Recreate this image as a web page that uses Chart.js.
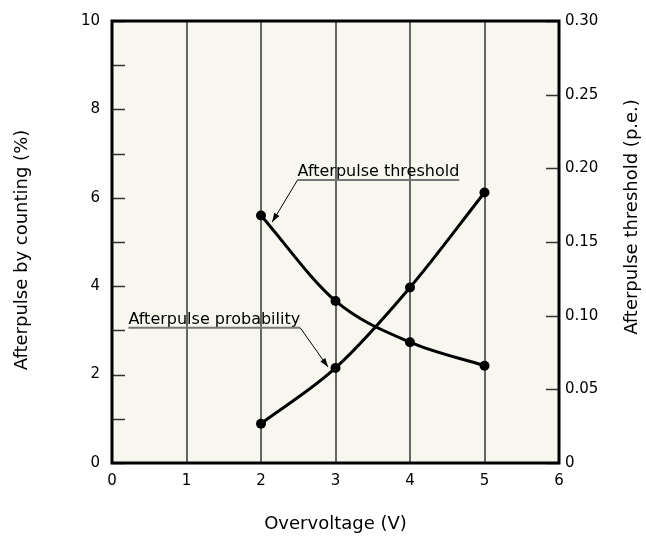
<!DOCTYPE html>
<html>
<head>
<meta charset="utf-8">
<title>Afterpulse vs overvoltage</title>
<script src="https://cdn.jsdelivr.net/npm/chart.js@4.4.0/dist/chart.umd.min.js"></script>
<style>
  html, body { margin: 0; padding: 0; background: #fff; }
  #wrap { width: 646px; height: 550px; }
</style>
</head>
<body>
<div id="wrap"><canvas id="afterpulseChart" width="646" height="550"></canvas></div>
<script>
// Measured points
const overvoltage = [2, 3, 4, 5];                       // V
const afterpulseProbability = [0.89, 2.15, 3.97, 6.12]; // % (left axis)
const afterpulseThreshold = [0.168, 0.11, 0.082, 0.066]; // p.e. (right axis)

// Axis ticks
const xTickValues = [0, 1, 2, 3, 4, 5, 6];
const leftTickValues = [0, 1, 2, 3, 4, 5, 6, 7, 8, 9, 10];
const leftTickLabels = ["0", "", "2", "", "4", "", "6", "", "8", "", "10"];
const rightTickValues = [0, 0.05, 0.1, 0.15, 0.2, 0.25, 0.3];
const rightTickLabels = ["0", "0.05", "0.10", "0.15", "0.20", "0.25", "0.30"];

const FONT = '"DejaVu Sans", Verdana, sans-serif';

// Callout labels with leader arrows (in x / left-axis units)
const callouts = [
  { text: "Afterpulse threshold", at: [2.49, 6.4], tip: [2.15, 5.45], from: "start" },
  { text: "Afterpulse probability", at: [0.22, 3.06], tip: [2.9, 2.17], from: "end" },
];

const setTicks = (values) => (scale) => {
  scale.ticks = values.map((v) => ({ value: v }));
};

function drawArrow(ctx, x1, y1, x2, y2) {
  ctx.beginPath();
  ctx.moveTo(x1, y1);
  ctx.lineTo(x2, y2);
  ctx.stroke();
  const ang = Math.atan2(y2 - y1, x2 - x1);
  const len = 9, half = 3;
  ctx.beginPath();
  ctx.moveTo(x2, y2);
  ctx.lineTo(x2 - len * Math.cos(ang) + half * Math.sin(ang), y2 - len * Math.sin(ang) - half * Math.cos(ang));
  ctx.lineTo(x2 - len * Math.cos(ang) - half * Math.sin(ang), y2 - len * Math.sin(ang) + half * Math.cos(ang));
  ctx.closePath();
  ctx.fill();
}

const framePlugin = {
  id: "frame",
  beforeDraw(chart) {
    const { ctx, chartArea: a } = chart;
    ctx.save();
    ctx.fillStyle = "#f7f6ef";
    ctx.fillRect(a.left, a.top, a.right - a.left, a.bottom - a.top);
    ctx.restore();
  },
  afterDraw(chart) {
    const { ctx, chartArea: a, scales } = chart;
    const x = scales.x, y = scales.y, y2 = scales.y2;
    ctx.save();

    // inward tick marks on both value axes
    ctx.strokeStyle = "#333";
    ctx.lineWidth = 1.5;
    y.ticks.forEach((t) => {
      const py = Math.round(y.getPixelForValue(t.value)) + 0.5;
      ctx.beginPath(); ctx.moveTo(a.left, py); ctx.lineTo(a.left + 13, py); ctx.stroke();
    });
    y2.ticks.forEach((t) => {
      const py = Math.round(y2.getPixelForValue(t.value)) + 0.5;
      ctx.beginPath(); ctx.moveTo(a.right - 13, py); ctx.lineTo(a.right, py); ctx.stroke();
    });

    // plot frame
    ctx.strokeStyle = "#000";
    ctx.lineWidth = 3;
    ctx.strokeRect(a.left, a.top, a.right - a.left, a.bottom - a.top);

    // callouts
    ctx.font = "16px " + FONT;
    ctx.textAlign = "left";
    ctx.textBaseline = "alphabetic";
    callouts.forEach((c) => {
      const px = x.getPixelForValue(c.at[0]);
      const py = y.getPixelForValue(c.at[1]);
      const w = ctx.measureText(c.text).width;
      ctx.fillStyle = "#000";
      ctx.fillText(c.text, px, py - 4);
      ctx.strokeStyle = "#777";
      ctx.lineWidth = 2;
      ctx.beginPath(); ctx.moveTo(px, py); ctx.lineTo(px + w, py); ctx.stroke();
      const sx = c.from === "start" ? px : px + w;
      ctx.strokeStyle = "#000";
      ctx.lineWidth = 1;
      drawArrow(ctx, sx, py, x.getPixelForValue(c.tip[0]), y.getPixelForValue(c.tip[1]));
    });

    // axis titles
    ctx.fillStyle = "#000";
    ctx.font = "18px " + FONT;
    ctx.textAlign = "center";
    ctx.textBaseline = "middle";
    ctx.fillText("Overvoltage (V)", (a.left + a.right) / 2, 524);
    ctx.save();
    ctx.translate(22, 250);
    ctx.rotate(-Math.PI / 2);
    ctx.fillText("Afterpulse by counting (%)", 0, 0);
    ctx.restore();
    ctx.save();
    ctx.translate(632, 217);
    ctx.rotate(-Math.PI / 2);
    ctx.fillText("Afterpulse threshold (p.e.)", 0, 0);
    ctx.restore();

    ctx.restore();
  },
};

const lineStyle = {
  borderColor: "#000",
  backgroundColor: "#000",
  borderWidth: 3,
  pointRadius: 5,
  pointBackgroundColor: "#000",
  pointBorderWidth: 0,
  cubicInterpolationMode: "monotone",
  fill: false,
};

new Chart(document.getElementById("afterpulseChart"), {
  type: "line",
  data: {
    datasets: [
      {
        label: "Afterpulse probability",
        data: overvoltage.map((v, i) => ({ x: v, y: afterpulseProbability[i] })),
        yAxisID: "y",
        ...lineStyle,
      },
      {
        label: "Afterpulse threshold",
        data: overvoltage.map((v, i) => ({ x: v, y: afterpulseThreshold[i] })),
        yAxisID: "y2",
        ...lineStyle,
      },
    ],
  },
  options: {
    responsive: false,
    animation: false,
    layout: { padding: { top: 17, left: 0, right: 0, bottom: 0 } },
    plugins: {
      legend: { display: false },
      tooltip: { enabled: false },
    },
    scales: {
      x: {
        type: "linear",
        min: 0,
        max: 6,
        afterBuildTicks: setTicks(xTickValues),
        afterFit: (scale) => { scale.height = 87; },
        grid: { color: "#666", lineWidth: 2, drawTicks: false },
        border: { display: false },
        ticks: { color: "#000", padding: 9, font: { family: FONT, size: 15 } },
      },
      y: {
        position: "left",
        min: 0,
        max: 10,
        afterBuildTicks: setTicks(leftTickValues),
        afterFit: (scale) => { scale.width = 112; },
        grid: { display: false, drawTicks: false },
        border: { display: false },
        ticks: {
          autoSkip: false,
          color: "#000",
          padding: 12,
          font: { family: FONT, size: 15 },
          callback: (v, i) => leftTickLabels[i],
        },
      },
      y2: {
        position: "right",
        min: 0,
        max: 0.3,
        afterBuildTicks: setTicks(rightTickValues),
        afterFit: (scale) => { scale.width = 87; },
        grid: { display: false, drawTicks: false },
        border: { display: false },
        ticks: {
          autoSkip: false,
          color: "#000",
          padding: 6,
          font: { family: FONT, size: 15 },
          callback: (v, i) => rightTickLabels[i],
        },
      },
    },
  },
  plugins: [framePlugin],
});
</script>
</body>
</html>
